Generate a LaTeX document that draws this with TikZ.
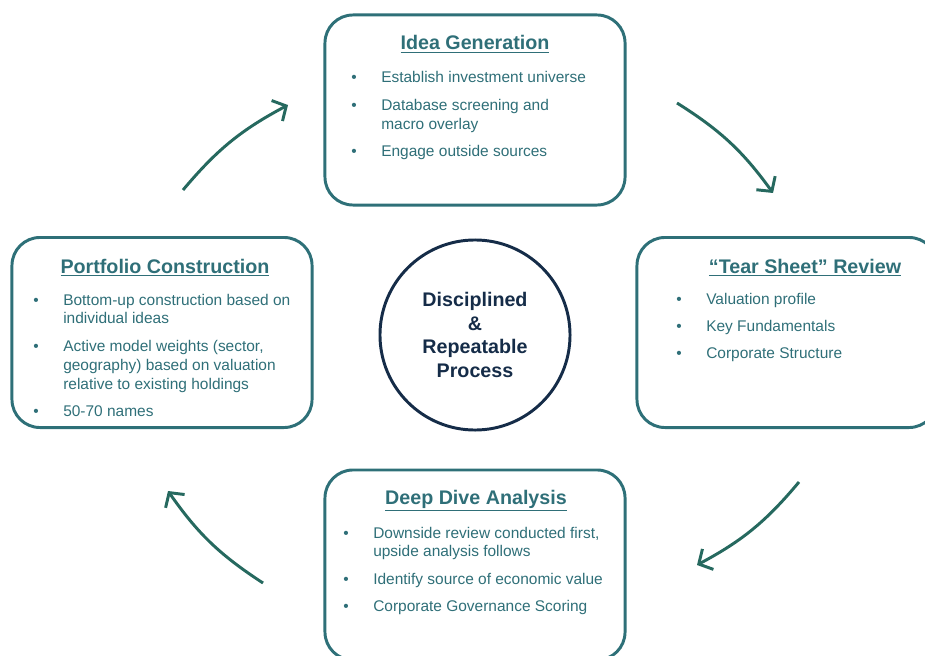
\documentclass[tikz,border=0pt]{standalone}
\usepackage{fontspec}
\setmainfont{Liberation Sans}
\usetikzlibrary{arrows.meta}

\definecolor{BoxTeal}{HTML}{2E7078}
\definecolor{TextTeal}{HTML}{2F6F78}
\definecolor{ArrowGreen}{HTML}{26695F}
\definecolor{HubNavy}{HTML}{152C48}

% bullet list set as a two column table
\newcommand{\PointList}[1]{\fontsize{11}{13.5}\selectfont\begin{tabular}[t]{@{}p{0.75cm}@{}l@{}}#1\end{tabular}}

\begin{document}
\begin{tikzpicture}
    [
        x=0.025cm, y=-0.025cm,
        Stage/.style={rectangle,rounded corners=0.7cm,minimum width=7.5cm,minimum height=4.75cm,draw=BoxTeal,line width=2.1pt},
        Title/.style={anchor=base,inner sep=0pt,text=TextTeal,font=\fontsize{14}{16}\selectfont\bfseries},
        Points/.style={anchor=base west,inner sep=0pt,text=TextTeal},
        Hub/.style={circle,minimum size=4.75cm,draw=HubNavy,line width=2.1pt,text=HubNavy,align=center,font=\fontsize{14}{17}\selectfont\bfseries},
        Cycle/.style={draw=ArrowGreen,line width=2.1pt,-{Straight Barb[length=2.6mm,width=5.8mm]},bend left=11}
    ]
    \useasboundingbox (0,0) rectangle (925,656);

    % four stages round the hub
    \node[Stage] (idea) at (475,110) {};
    \node[Stage] (tear) at (787,332.5) {};
    \node[Stage] (dive) at (475,565) {};
    \node[Stage] (portfolio) at (162,332.5) {};

    \node[Hub] (hub) at (475,335) {Disciplined\\\&\\Repeatable\\Process};

    \node[Title] (ideaTitle) at (475,50) {\underline{Idea Generation}};
    \node[Points] (ideaPoints) at (351,83) {\PointList{
        \textbullet & Establish investment universe\\[6pt]
        \textbullet & Database screening and\\
                    & macro overlay\\[6pt]
        \textbullet & Engage outside sources}};

    \node[Title] (tearTitle) at (805,273) {\underline{``Tear Sheet'' Review}};
    \node[Points] (tearPoints) at (676,304) {\PointList{
        \textbullet & Valuation profile\\[6pt]
        \textbullet & Key Fundamentals\\[6pt]
        \textbullet & Corporate Structure}};

    \node[Title] (diveTitle) at (476,504) {\underline{Deep Dive Analysis}};
    \node[Points] (divePoints) at (343,538) {\PointList{
        \textbullet & Downside review conducted first,\\
                    & upside analysis follows\\[6pt]
        \textbullet & Identify source of economic value\\[6pt]
        \textbullet & Corporate Governance Scoring}};

    \node[Title] (portfolioTitle) at (165,273) {\underline{Portfolio Construction}};
    \node[Points] (portfolioPoints) at (33,305) {\PointList{
        \textbullet & Bottom-up construction based on\\
                    & individual ideas\\[6pt]
        \textbullet & Active model weights (sector,\\
                    & geography) based on valuation\\
                    & relative to existing holdings\\[6pt]
        \textbullet & 50-70 names}};

    % curved arrows between the stages
    \coordinate (tlStart) at (183,190);
    \coordinate (tlEnd) at (288,105);
    \coordinate (trStart) at (677,103);
    \coordinate (trEnd) at (773,193);
    \coordinate (brStart) at (799,482);
    \coordinate (brEnd) at (697,565);
    \coordinate (blStart) at (263,583);
    \coordinate (blEnd) at (168,491);

    \draw[Cycle] (tlStart) to (tlEnd);
    \draw[Cycle] (trStart) to (trEnd);
    \draw[Cycle] (brStart) to (brEnd);
    \draw[Cycle] (blStart) to (blEnd);
\end{tikzpicture}
\end{document}
